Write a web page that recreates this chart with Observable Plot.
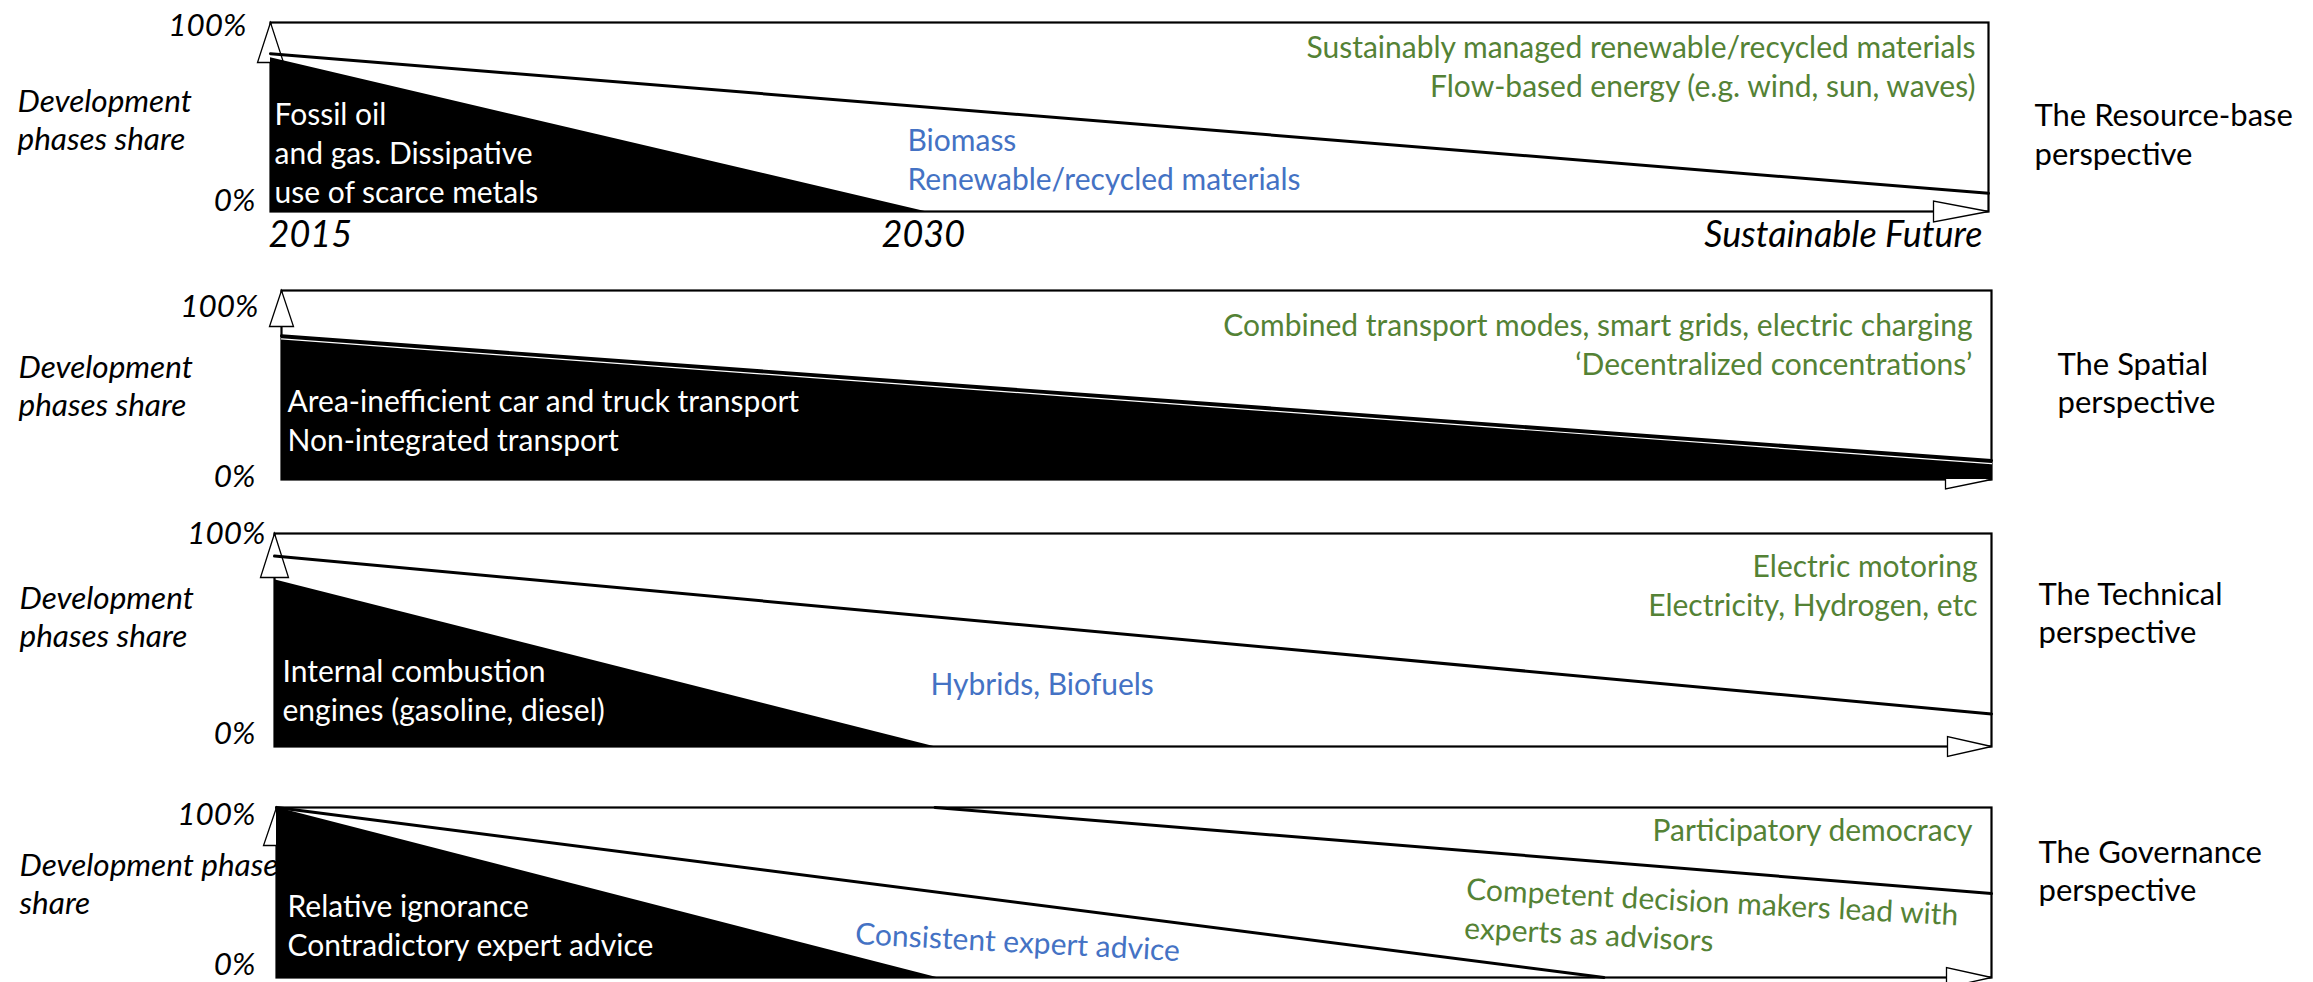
<!DOCTYPE html>
<html><head><meta charset="utf-8">
<script src="https://cdn.jsdelivr.net/npm/d3@7"></script>
<script src="https://cdn.jsdelivr.net/npm/@observablehq/plot@0.6"></script>
<style>
html,body{margin:0;padding:0;background:#fff;}
#wrap{position:relative;width:2313px;height:982px;overflow:hidden;background:#fff;}
#wrap svg{position:absolute;left:0;}
</style></head><body><div id="wrap"></div>
<script>
// ---------- data ----------
const xTickPos = [0, 38, 100];
const xTickLabels = ["2015", "2030", "Sustainable Future"];
const yTicks = [0, 100];
const yTitles = ["Development\nphases share", "Development\nphases share", "Development\nphases share", "Development phase\nshare"];

const resourceOld = [{x: 0, y: 81.3}, {x: 38.1, y: 0}];
const resourceNew = [{x: 0, y: 83.5}, {x: 100, y: 9.6}];
const spatialOld = [{x: 0, y: 76}, {x: 100, y: 10}];
const technicalOld = [{x: 0, y: 78.3}, {x: 38.4, y: 0}];
const technicalNew = [{x: 0, y: 89.4}, {x: 100, y: 15.3}];
const governanceOld = [{x: 0, y: 100}, {x: 38.5, y: 0}];
const governanceMid = [{x: 0, y: 100}, {x: 77.4, y: 0}];
const governanceNew = [{x: 38.4, y: 100}, {x: 100, y: 49.4}];

const perspectives = ["The Resource-base\nperspective", "The Spatial\nperspective", "The Technical\nperspective", "The Governance\nperspective"];
const oldPhase = ["Fossil oil\nand gas. Dissipative\nuse of scarce metals", "Area-inefficient car and truck transport\nNon-integrated transport", "Internal combustion\nengines (gasoline, diesel)", "Relative ignorance\nContradictory expert advice"];
const transitionPhase = ["Biomass\nRenewable/recycled materials", "", "Hybrids, Biofuels", "Consistent expert advice"];
const sustainablePhase = ["Sustainably managed renewable/recycled materials\nFlow-based energy (e.g. wind, sun, waves)", "Combined transport modes, smart grids, electric charging\n‘Decentralized concentrations’", "Electric motoring\nElectricity, Hydrogen, etc", "Participatory democracy"];
const governanceExpert = ["Competent decision makers lead with\nexperts as advisors"];

// ---------- style ----------
const W = 2313;
const FONT = "Lato, 'Open Sans', sans-serif";
const FS = 30;          // body text
const FS_PERSP = 31;    // perspective labels
const FS_YT = 31.5;     // italic y titles / % labels
const FS_XT = 36;       // italic x tick labels
const LH = 1.3;
const GREEN = "#548235", BLUE = "#4472C4";

function upArrow(h, w) { return {draw(c) { c.moveTo(0, 0); c.lineTo(-w, h); c.lineTo(w, h); c.closePath(); }}; }
function rightArrow(len, w) { return {draw(c) { c.moveTo(0, 0); c.lineTo(-len, -w); c.lineTo(-len, w); c.closePath(); }}; }

const layouts = [
  {top: 0, height: 262, left: 270, right: 1988, ft: 22, fb: 211, up: [40, 13], rt: [55, 10.5],
   yt: [17, 118.5], p100: [246, 25], p0: [255, 200], old: [274, 151], tr: [907, 157.5], su: [1975, 65], pe: [2034, 132.5]},
  {top: 262, height: 258, left: 281, right: 1991, ft: 290, fb: 479, up: [36, 12], rt: [46, 9.5],
   yt: [18, 384], p100: [258, 306], p0: [255, 476], old: [287, 419], tr: null, su: [1972, 342.5], pe: [2057, 381]},
  {top: 520, height: 270, left: 274, right: 1991, ft: 533, fb: 746, up: [44, 14], rt: [44, 10],
   yt: [19, 615], p100: [265, 533], p0: [255, 733], old: [282, 689], tr: [930, 682], su: [1977, 583.5], pe: [2038, 611]},
  {top: 790, height: 192, left: 276, right: 1991, ft: 807, fb: 977, up: [38, 13], rt: [45, 10],
   yt: [19, 882], p100: [255, 814], p0: [255, 964], old: [287, 924], tr: [855, 931], su: [1972, 828], pe: [2038, 869]}
];

const series = [
  {old: resourceOld, lines: [resourceNew]},
  {old: spatialOld, lines: [spatialOld], gap: true},
  {old: technicalOld, lines: [technicalNew]},
  {old: governanceOld, lines: [governanceMid, governanceNew]}
];

function label(L, str, pos, opts = {}) {
  return Plot.text([str], {
    text: d => d, frameAnchor: "top-left",
    dx: pos[0] - L.left, dy: pos[1] - L.ft,
    lineAnchor: "middle", fontSize: FS, lineHeight: LH, fill: "black", ...opts
  });
}

const wrap = document.getElementById("wrap");

layouts.forEach((L, i) => {
  const S = series[i];
  const marks = [
    Plot.frame({stroke: "black", strokeWidth: 2.2}),
    Plot.dot([0], {x: () => xTickPos[0], y: () => yTicks[1], symbol: upArrow(L.up[0], L.up[1]), fill: "white", stroke: "black", strokeWidth: 1.3}),
    Plot.dot([0], {x: () => xTickPos[2], y: () => yTicks[0], symbol: rightArrow(L.rt[0], L.rt[1]), fill: "white", stroke: "black", strokeWidth: 1.3}),
    Plot.areaY(S.old, {x: "x", y: "y", fill: "black"}),
    ...S.lines.map(l => Plot.line(l, {x: "x", y: "y", stroke: "black", strokeWidth: 3})),
  ];
  if (S.gap) marks.push(Plot.line(S.old, {x: "x", y: "y", stroke: "white", strokeWidth: 1.2, dy: 3}));
  // y tick labels
  marks.push(Plot.text([yTicks[1]], {y: d => d, text: d => d + "%", frameAnchor: "left", textAnchor: "end",
    dx: L.p100[0] - L.left, dy: L.p100[1] - L.ft, fontSize: FS_YT, fontStyle: "italic", lineAnchor: "middle"}));
  marks.push(Plot.text([yTicks[0]], {y: d => d, text: d => d + "%", frameAnchor: "left", textAnchor: "end",
    dx: L.p0[0] - L.left, dy: L.p0[1] - L.fb, fontSize: FS_YT, fontStyle: "italic", lineAnchor: "middle"}));
  // y title
  marks.push(label(L, yTitles[i], L.yt, {textAnchor: "start", fontStyle: "italic", fontSize: FS_YT, lineHeight: 1.2}));
  // phase labels
  marks.push(label(L, oldPhase[i], L.old, {textAnchor: "start", fill: "white"}));
  if (L.tr) marks.push(label(L, transitionPhase[i], L.tr, {textAnchor: "start", fill: BLUE, rotate: i === 3 ? 3 : 0}));
  marks.push(label(L, sustainablePhase[i], L.su, {textAnchor: "end", fill: GREEN}));
  if (i === 3) marks.push(label(L, governanceExpert[0], [1465, 906], {textAnchor: "start", fill: GREEN, rotate: 3}));
  marks.push(label(L, perspectives[i], L.pe, {textAnchor: "start", fontSize: FS_PERSP, lineHeight: 1.25}));
  // x tick labels (first panel only)
  if (i === 0) {
    const anchors = ["start", "middle", "end"];
    const dxs = [-2, 0, -6];
    xTickPos.forEach((p, k) => {
      marks.push(Plot.text([p], {x: d => d, text: () => xTickLabels[k], frameAnchor: "bottom", textAnchor: anchors[k],
        dx: dxs[k], dy: 235 - L.fb, fontSize: FS_XT, fontStyle: "italic", lineAnchor: "middle"}));
    });
  }
  const svg = Plot.plot({
    width: W, height: L.height,
    marginLeft: L.left, marginRight: W - L.right,
    marginTop: L.ft - L.top, marginBottom: L.top + L.height - L.fb,
    x: {domain: [0, 100], axis: null},
    y: {domain: [0, 100], axis: null},
    style: {fontFamily: FONT, fontSize: FS + "px", background: "transparent", overflow: "visible"},
    marks
  });
  svg.style.top = L.top + "px";
  wrap.appendChild(svg);
});
</script></body></html>
